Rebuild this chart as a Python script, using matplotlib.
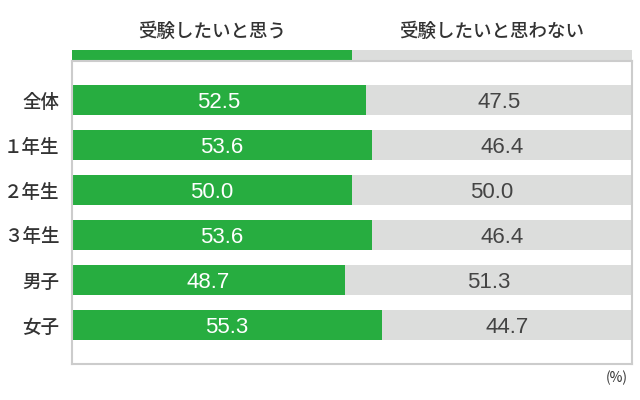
import matplotlib.pyplot as plt
import numpy as np

categories = ['全体', '１年生', '２年生', '３年生', '男子', '女子']
want = [52.5, 53.6, 50.0, 53.6, 48.7, 55.3]
not_want = [47.5, 46.4, 50.0, 46.4, 51.3, 44.7]
legend_labels = ['受験したいと思う', '受験したいと思わない']

green = '#27ad40'
grey = '#dcdddc'
jp = ['Noto Sans CJK JP', 'DejaVu Sans']

fig = plt.figure(figsize=(6.4, 4), dpi=100)

# header strip: half green, half grey
hdr = fig.add_axes([72/640, 1-60/400, 560/640, 10/400])
hdr.barh(0, 50, height=1, color=green, left=0)
hdr.barh(0, 50, height=1, color=grey, left=50)
hdr.set_xlim(0, 100)
hdr.set_ylim(-0.5, 0.5)
hdr.axis('off')
fig.text(212/640, 1-31/400, legend_labels[0], ha='center', va='center',
         fontsize=13.3, color='#333333', family=jp, weight='medium')
fig.text(492/640, 1-31/400, legend_labels[1], ha='center', va='center',
         fontsize=13.3, color='#333333', family=jp, weight='medium')

ax = fig.add_axes([72/640, 1-364/400, 560/640, 303/400])
y = np.arange(len(categories))
ax.barh(y, want, height=0.667, color=green)
ax.barh(y, not_want, left=want, height=0.667, color=grey)
ax.set_xlim(0, 100)
ax.set_ylim(len(categories) - 1 + 0.867, -0.867)
ax.set_xticks([])
ax.set_yticks(y)
ax.set_yticklabels(categories, family=jp, fontsize=13.3, color='#333333',
                   weight='medium')
ax.tick_params(axis='y', length=0, pad=9)
for s in ax.spines.values():
    s.set_color('#cccccc')
    s.set_linewidth(1.5)

for i in range(len(categories)):
    ax.text(want[i] / 2, y[i] + 0.05, f'{want[i]:.1f}', ha='center',
            va='center', color='white', fontsize=16, family='Liberation Sans')
    ax.text(want[i] + not_want[i] / 2, y[i] + 0.05, f'{not_want[i]:.1f}',
            ha='center', va='center', color='#444444', fontsize=16,
            family='Liberation Sans')

fig.text(628/640, 1-378/400, '(%)', ha='right', va='center', fontsize=10,
         color='#333333', family=jp)

fig.savefig('out.png', dpi=100)
